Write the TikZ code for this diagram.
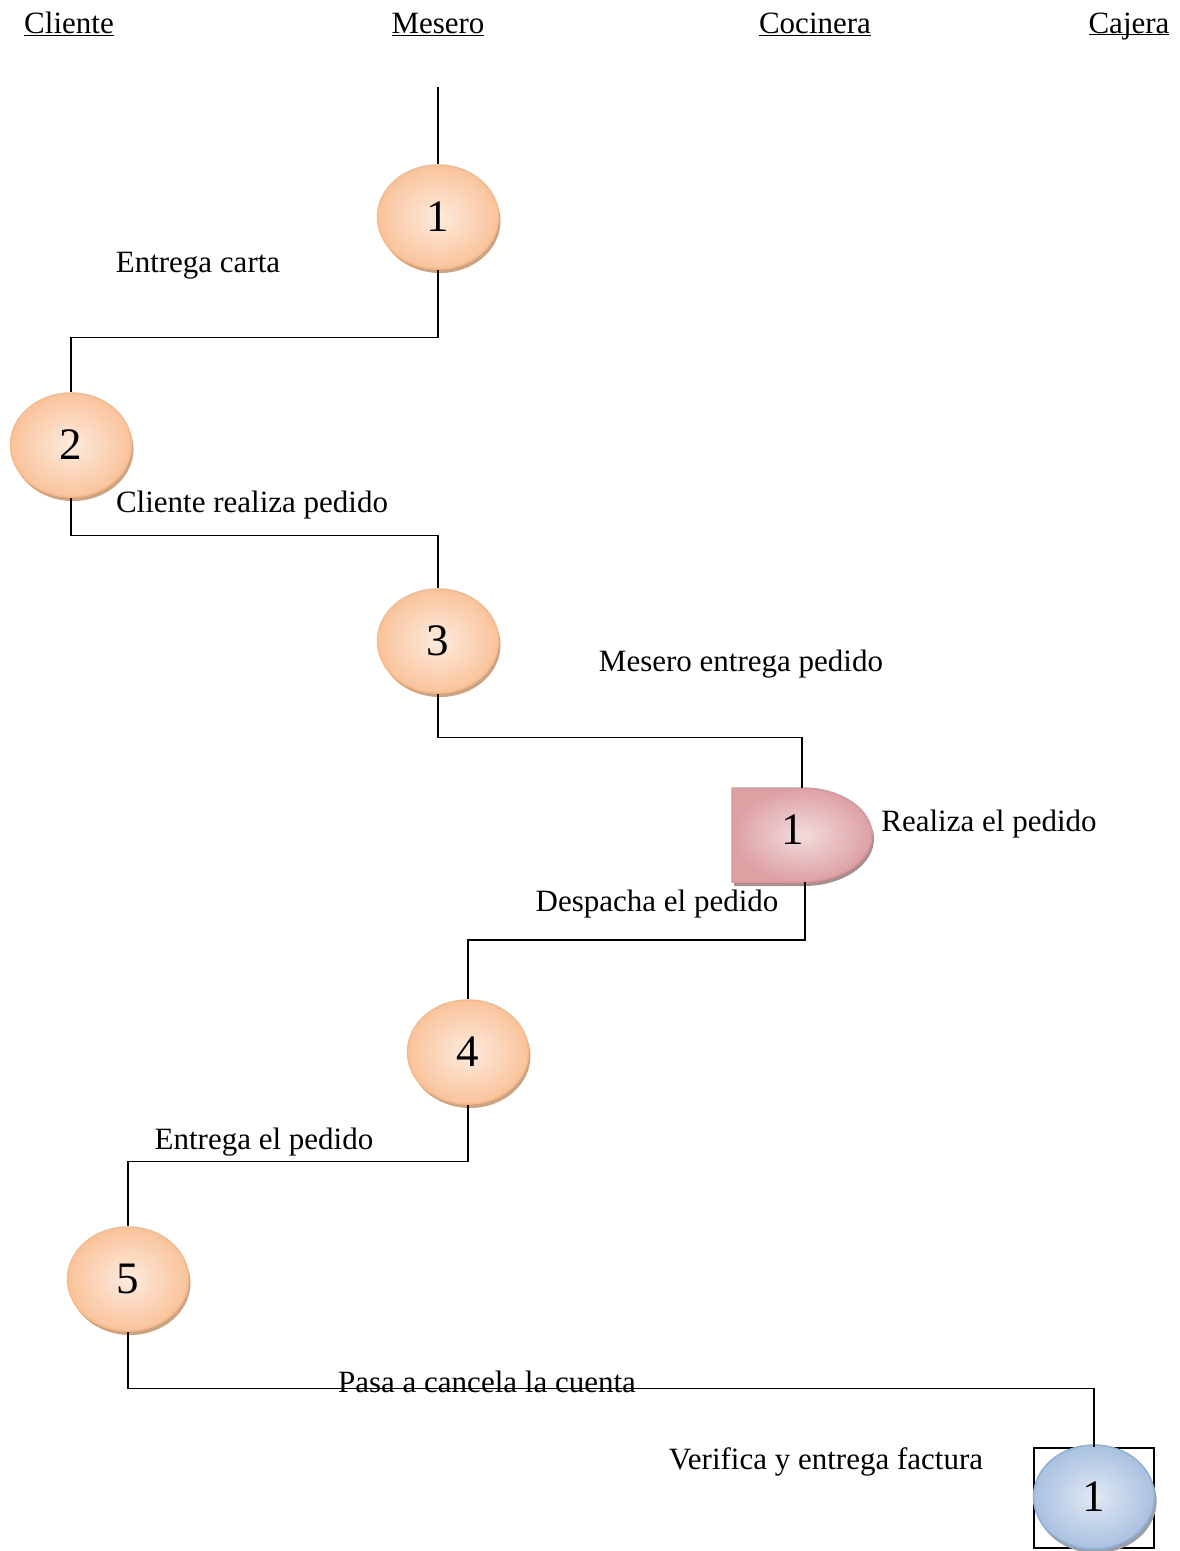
\documentclass[tikz,border=0pt]{standalone}
\usepackage{fontspec}
\setmainfont{Liberation Serif}
\usetikzlibrary{shapes.geometric,shadows}
\definecolor{coinline}{HTML}{F8B98A}
\definecolor{coinlight}{HTML}{FDEBDD}
\definecolor{coindark}{HTML}{F9C39B}
\definecolor{coinedge}{HTML}{C9A588}
\definecolor{redline}{HTML}{D9979A}
\definecolor{redlight}{HTML}{F2DCDD}
\definecolor{reddark}{HTML}{DDA0A3}
\definecolor{rededge}{HTML}{A58F8F}
\definecolor{blueline}{HTML}{8FAFD6}
\definecolor{bluelight}{HTML}{E0E9F4}
\definecolor{bluedark}{HTML}{A9C1DF}
\definecolor{blueedge}{HTML}{9A9FA8}
\begin{document}
\begin{tikzpicture}[x=1pt,y=-1pt,
		coin/.style={ellipse,draw=coinline,line width=1.5pt,inner color=coinlight,outer color=coindark,
			minimum width=121pt,minimum height=104pt,inner sep=0pt,font=\fontsize{45}{45}\selectfont,
			general shadow={fill=coinedge,shadow xshift=2pt,shadow yshift=-4pt}},
		bluecoin/.style={coin,draw=blueline,inner color=bluelight,outer color=bluedark,
			general shadow={fill=blueedge,shadow xshift=2pt,shadow yshift=-4pt}},
		lbl/.style={font=\fontsize{31}{31}\selectfont,inner sep=0pt},
		head/.style={lbl,anchor=base},
		conn/.style={line width=1.3pt}]
	\useasboundingbox (0,0) rectangle (1179,1551);
	\node[head] (hcli) at (69,33) {\underline{Cliente}};
	\node[head] (hmes) at (438,33) {\underline{Mesero}};
	\node[head] (hcoc) at (815,33) {\underline{Cocinera}};
	\node[head] (hcaj) at (1129,33) {\underline{\smash{Cajera}}};
	\coordinate (start) at (438,87);
	\node[coin] (m1) at (438,217) {1};
	\node[coin] (c2) at (71,445) {2};
	\node[coin] (m3) at (438,641) {3};
	\node[coin] (m4) at (468,1052) {4};
	\node[coin] (c5) at (128,1279) {5};
	\fill[rededge] (734,792) -- (804,792) arc[start angle=-90,end angle=90,x radius=70,y radius=47] -- (734,886) -- cycle;
	\draw[draw=redline,line width=1.5pt,inner color=redlight,outer color=reddark] (732,788) -- (802,788) arc[start angle=-90,end angle=90,x radius=70,y radius=47] -- (732,882) -- cycle;
	\node[font=\fontsize{45}{45}\selectfont,inner sep=0pt] (k1) at (793,830) {1};
	\coordinate (k1n) at (802,788);
	\coordinate (k1s) at (805,882);
	\node[draw,line width=1.3pt,minimum width=120pt,minimum height=100pt,inner sep=0pt] (j1box) at (1094,1498) {};
	\node[bluecoin] (j1) at (1094,1497) {1};
	\draw[conn] (start) -- (m1.north);
	\draw[conn] (m1.south) -- ++(0,68) -| (c2.north);
	\draw[conn] (c2.south) -- ++(0,38) -| (m3.north);
	\draw[conn] (m3.south) -- ++(0,44) -| (k1n);
	\draw[conn] (k1s) -- ++(0,58) -| (m4.north);
	\draw[conn] (m4.south) -- ++(0,57) -| (c5.north);
	\draw[conn] (c5.south) -- ++(0,57) -| (j1box.north);
	\node[lbl] (t1) at (198,266) {Entrega carta};
	\node[lbl] (t2) at (252,505) {Cliente realiza pedido};
	\node[lbl] (t3) at (741,664) {Mesero entrega pedido};
	\node[lbl] (t4) at (989,824) {Realiza el pedido};
	\node[lbl] (t5) at (657,904) {Despacha el pedido};
	\node[lbl] (t6) at (264,1142) {Entrega el pedido};
	\node[lbl] (t7) at (487,1382) {Pasa a cancela la cuenta};
	\node[lbl] (t8) at (826,1462) {Verifica y entrega factura};
\end{tikzpicture}
\end{document}
